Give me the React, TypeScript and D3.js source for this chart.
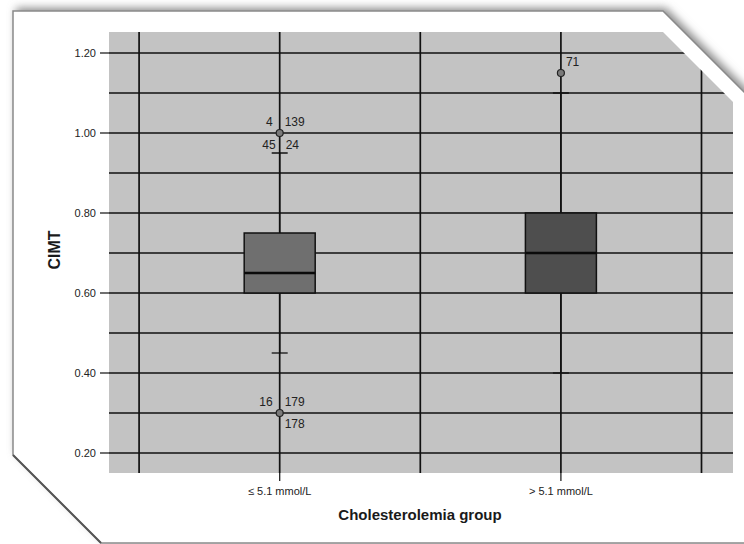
import { useEffect, useRef } from 'react';
import * as d3 from 'd3';

// ─── Datos ──────────────────────────────────────────────────────────────────
const categories = ['≤ 5.1 mmol/L', '> 5.1 mmol/L'];
const whiskerLow = [0.45, 0.40];
const q1 = [0.60, 0.60];
const medians = [0.65, 0.70];
const q3 = [0.75, 0.80];
const whiskerHigh = [0.95, 1.10];
const boxFills = ['#6f6f6f', '#4e4e4e'];

// outliers: categoría, valor
const outlierCat = [0, 0, 1];
const outlierValue = [1.00, 0.30, 1.15];

// etiquetas de casos: categoría, valor, texto, esquina
const labelCat = [0, 0, 0, 0, 0, 0, 0, 1];
const labelValue = [1.00, 1.00, 0.95, 0.95, 0.30, 0.30, 0.30, 1.15];
const labelText = ['4', '139', '45', '24', '16', '179', '178', '71'];
const labelCorner = ['nw', 'ne', 'w', 'e', 'nw', 'ne', 'se', 'ne'];

const yTicks = [0.2, 0.4, 0.6, 0.8, 1.0, 1.2];
const yGrid = [0.2, 0.3, 0.4, 0.5, 0.6, 0.7, 0.8, 0.9, 1.0, 1.1, 1.2];
const xGrid = [0.5, 1, 1.5, 2, 2.5];

const FONT = '"Liberation Sans", Arial, sans-serif';

export default function App() {
  const svgRef = useRef<SVGSVGElement | null>(null);

  useEffect(() => {
    if (!svgRef.current) return;
    const W = 744, H = 544;
    const m = { left: 109, top: 32, right: 733, bottom: 473 };

    const svg = d3.select(svgRef.current);
    svg.selectAll('*').remove();
    svg.attr('width', W).attr('height', H);

    const defs = svg.append('defs');

    // ── Tarjeta con esquinas recortadas ────────────────────────────────────
    const card: [number, number][] = [
      [13, 11], [663, 11], [770, 118], [770, 543], [101, 543], [13, 455],
    ];
    const f = defs.append('filter').attr('id', 'shadow')
      .attr('x', '-10%').attr('y', '-10%').attr('width', '120%').attr('height', '120%');
    f.append('feGaussianBlur').attr('stdDeviation', 4);

    const poly = (pts: [number, number][]) => 'M' + pts.map(p => p.join(',')).join('L') + 'Z';

    svg.append('path')
      .attr('d', poly(card.map(([x, y]) => [x + 3, y - 3] as [number, number])))
      .attr('fill', '#8a8a8a')
      .attr('filter', 'url(#shadow)');
    svg.append('path')
      .attr('d', poly(card))
      .attr('fill', '#ffffff')
      .attr('stroke', '#8a8a8a')
      .attr('stroke-width', 1.5);
    // borde inferior izquierdo más oscuro
    svg.append('line')
      .attr('x1', 13).attr('y1', 455).attr('x2', 101).attr('y2', 543)
      .attr('stroke', '#555').attr('stroke-width', 2);

    // ── Escalas ────────────────────────────────────────────────────────────
    const x = d3.scaleLinear().domain([0.393, 2.612]).range([m.left, m.right]);
    const y = d3.scaleLinear().domain([0.2, 1.2]).range([453, 53]);

    // Recorte del área de trazado por la esquina doblada
    const clipPts: [number, number][] = [
      [m.left, m.top], [m.top + 631, m.top], [m.right, m.right - 631],
      [m.right, m.bottom], [m.left, m.bottom],
    ];
    defs.append('clipPath').attr('id', 'plotclip')
      .append('path').attr('d', poly(clipPts));

    const g = svg.append('g').attr('clip-path', 'url(#plotclip)');

    g.append('rect')
      .attr('x', m.left).attr('y', m.top)
      .attr('width', m.right - m.left).attr('height', m.bottom - m.top)
      .attr('fill', '#c3c3c3');

    // Rejilla
    g.selectAll('line.hg').data(yGrid).join('line')
      .attr('x1', m.left).attr('x2', m.right)
      .attr('y1', d => y(d)).attr('y2', d => y(d))
      .attr('stroke', '#111').attr('stroke-width', 1.7);
    g.selectAll('line.vg').data(xGrid).join('line')
      .attr('x1', d => x(d)).attr('x2', d => x(d))
      .attr('y1', m.top).attr('y2', m.bottom)
      .attr('stroke', '#111').attr('stroke-width', 1.7);

    // ── Cajas ──────────────────────────────────────────────────────────────
    const boxW = 71, capW = 16;
    categories.forEach((_, i) => {
      const cx = x(i + 1);
      g.append('line')
        .attr('x1', cx).attr('x2', cx)
        .attr('y1', y(whiskerLow[i])).attr('y2', y(whiskerHigh[i]))
        .attr('stroke', '#111').attr('stroke-width', 1.3);
      [whiskerLow[i], whiskerHigh[i]].forEach(v => {
        g.append('line')
          .attr('x1', cx - capW / 2).attr('x2', cx + capW / 2)
          .attr('y1', y(v)).attr('y2', y(v))
          .attr('stroke', '#111').attr('stroke-width', 1.3);
      });
      g.append('rect')
        .attr('x', cx - boxW / 2).attr('width', boxW)
        .attr('y', y(q3[i])).attr('height', y(q1[i]) - y(q3[i]))
        .attr('fill', boxFills[i])
        .attr('stroke', '#111').attr('stroke-width', 1.5);
      g.append('line')
        .attr('x1', cx - boxW / 2).attr('x2', cx + boxW / 2)
        .attr('y1', y(medians[i])).attr('y2', y(medians[i]))
        .attr('stroke', '#0a0a0a').attr('stroke-width', 2.5);
    });

    // Outliers
    outlierValue.forEach((v, i) => {
      g.append('circle')
        .attr('cx', x(outlierCat[i] + 1)).attr('cy', y(v)).attr('r', 3.5)
        .attr('fill', '#7a7a7a').attr('stroke', '#222').attr('stroke-width', 1.2);
    });

    // Etiquetas de casos
    const off: Record<string, [number, number, string]> = {
      nw: [-7, -11, 'end'], ne: [5, -11, 'start'],
      w: [-4, -8, 'end'], e: [6, -8, 'start'],
      se: [5, 11, 'start'],
    };
    labelText.forEach((t, i) => {
      const [dx, dy, anchor] = off[labelCorner[i]];
      g.append('text')
        .attr('x', x(labelCat[i] + 1) + dx)
        .attr('y', y(labelValue[i]) + dy)
        .attr('dy', '0.35em')
        .attr('text-anchor', anchor)
        .attr('font-family', FONT).attr('font-size', 12)
        .attr('fill', '#222')
        .text(t);
    });

    // ── Ejes ───────────────────────────────────────────────────────────────
    const ya = svg.append('g');
    ya.selectAll('line').data(yTicks).join('line')
      .attr('x1', m.left - 9).attr('x2', m.left)
      .attr('y1', d => y(d)).attr('y2', d => y(d))
      .attr('stroke', '#222').attr('stroke-width', 1.3);
    ya.selectAll('text').data(yTicks).join('text')
      .attr('x', m.left - 13).attr('y', d => y(d)).attr('dy', '0.35em')
      .attr('text-anchor', 'end')
      .attr('font-family', FONT).attr('font-size', 11).attr('fill', '#222')
      .text(d => d3.format('.2f')(d));

    const xa = svg.append('g');
    xa.selectAll('line').data(categories).join('line')
      .attr('x1', (_, i) => x(i + 1)).attr('x2', (_, i) => x(i + 1))
      .attr('y1', m.bottom).attr('y2', m.bottom + 8)
      .attr('stroke', '#222').attr('stroke-width', 1.3);
    xa.selectAll('text').data(categories).join('text')
      .attr('x', (_, i) => x(i + 1)).attr('y', 491).attr('dy', '0.35em')
      .attr('text-anchor', 'middle')
      .attr('font-family', FONT).attr('font-size', 11).attr('fill', '#222')
      .text(d => d);

    svg.append('text')
      .attr('x', 420).attr('y', 515).attr('dy', '0.35em')
      .attr('text-anchor', 'middle')
      .attr('font-family', FONT).attr('font-size', 15).attr('font-weight', 'bold')
      .attr('fill', '#1a1a1a')
      .text('Cholesterolemia group');

    svg.append('text')
      .attr('transform', 'translate(54,250) rotate(-90)')
      .attr('dy', '0.35em')
      .attr('text-anchor', 'middle')
      .attr('font-family', FONT).attr('font-size', 16).attr('font-weight', 'bold')
      .attr('fill', '#1a1a1a')
      .text('CIMT');
  }, []);

  return (
    <div style={{ position: 'fixed', left: 0, top: 0, width: 744, height: 544, background: '#fff' }}>
      <svg ref={svgRef} style={{ display: 'block' }} />
    </div>
  );
}
